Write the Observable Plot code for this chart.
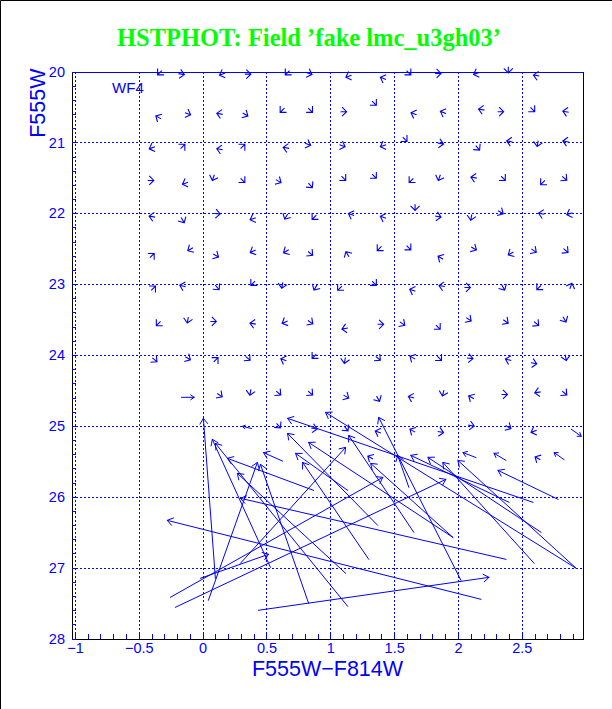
<!DOCTYPE html>
<html>
<head>
<meta charset="utf-8">
<script src="https://cdn.jsdelivr.net/npm/d3@7"></script>
<script src="https://cdn.jsdelivr.net/npm/@observablehq/plot@0.6"></script>
<style>
  body { margin: 0; background: #fff; }
  #chart svg { display: block; }
</style>
</head>
<body>
<div id="chart"></div>
<script>
// ---- texts ----
const title = "HSTPHOT: Field ’fake lmc_u3gh03’";
const xLabel = "F555W−F814W";
const yLabel = "F555W";
const panelLabel = ["WF4"];
const panelLabelX = [-0.713];
const panelLabelY = [20.30];

// ---- axes ----
const xTickValues = [-1, -0.5, 0, 0.5, 1, 1.5, 2, 2.5];
const xTickLabels = ["−1", "−0.5", "0", "0.5", "1", "1.5", "2", "2.5"];
const yTickValues = [20, 21, 22, 23, 24, 25, 26, 27, 28];
const xGrid = [-1, -0.5, 0, 0.5, 1, 1.5, 2, 2.5];
const yGrid = [21, 22, 23, 24, 25, 26, 27];
const xMinorTicks = d3.range(-10, 30).map(i => i / 10);
const yMinorTicks = d3.range(0, 41).map(i => 20 + i / 5);

// ---- small offset arrows (position, direction in degrees) ----
const smallX = [
  -0.34,-0.17,0.15,0.35,0.66,0.83,1.14,1.41,1.61,1.84,2.14,2.39,2.61,
  -0.35,-0.12,0.13,0.33,0.62,0.84,1.10,1.34,1.65,1.88,2.18,2.33,2.58,2.84,
  -0.40,-0.16,0.13,0.31,0.65,0.82,1.09,1.41,1.58,1.86,2.15,2.40,2.62,2.84,
  -0.41,-0.14,0.08,0.31,0.59,0.84,1.10,1.34,1.63,1.85,2.12,2.35,2.66,2.83,
  -0.40,-0.16,0.11,0.39,0.65,0.87,1.16,1.41,1.66,1.84,2.10,2.33,2.65,2.87,
  -0.40,-0.10,0.10,0.39,0.65,0.84,1.13,1.38,1.61,1.86,2.12,2.41,2.59,2.84,
  -0.39,-0.16,0.11,0.39,0.62,0.88,1.07,1.34,1.64,1.87,2.07,2.35,2.63,2.88,
  -0.35,-0.12,0.08,0.39,0.64,0.84,1.11,1.39,1.56,1.84,2.08,2.37,2.61,2.83,
  -0.38,-0.12,0.10,0.35,0.63,0.87,1.11,1.37,1.64,1.85,2.09,2.39,2.59,2.84,
  0.13,0.37,0.59,0.84,1.12,1.37,1.63,1.88,2.10,2.36,2.62,2.83,
  0.59,0.87,1.12,1.37,1.64,1.86,2.10,2.39,2.59,
  1.31,2.62
];
const smallY = [
  20.01,20.03,20.03,20.03,20.01,20.02,20.06,20.09,20.01,20.02,20.02,19.97,20.05,
  20.64,20.59,20.59,20.60,20.54,20.54,20.56,20.44,20.59,20.57,20.53,20.56,20.53,20.56,
  21.07,21.05,21.09,21.05,21.07,21.02,21.04,21.04,20.95,21.01,21.07,20.98,21.01,20.98,
  21.53,21.57,21.49,21.53,21.54,21.60,21.50,21.47,21.53,21.49,21.49,21.50,21.56,21.50,
  22.04,22.09,22.00,22.07,22.04,22.05,22.01,22.05,21.91,22.04,22.05,21.98,22.00,22.00,
  22.59,22.50,22.59,22.53,22.53,22.56,22.57,22.49,22.48,22.62,22.49,22.56,22.52,22.52,
  23.05,23.02,23.04,22.98,23.01,23.04,23.05,22.98,23.08,23.02,23.04,23.04,23.04,23.02,
  23.55,23.50,23.52,23.55,23.53,23.53,23.62,23.56,23.55,23.60,23.49,23.52,23.55,23.49,
  24.06,24.04,24.06,24.04,24.06,24.01,24.07,24.04,24.03,24.04,24.04,24.06,24.11,24.03,
  24.56,24.52,24.53,24.53,24.58,24.61,24.59,24.53,24.59,24.55,24.52,24.53,
  24.99,25.03,25.03,25.08,25.06,25.08,24.99,25.01,25.07,
  25.44,25.45
];
const smallAngle = [
  225,100,250,90,225,110,250,290,135,90,250,180,280,
  300,110,280,120,225,135,90,135,290,290,280,90,135,280,
  250,45,280,45,280,110,110,250,135,100,140,280,190,280,
  90,250,200,135,120,140,135,135,225,200,280,135,225,130,
  280,150,95,250,210,225,290,290,180,100,190,120,280,250,
  45,240,120,245,240,130,330,225,135,300,120,240,125,130,
  45,285,140,225,190,210,225,135,290,280,90,150,225,20,
  225,190,90,280,245,125,260,90,125,135,125,125,130,150,
  130,120,45,130,290,225,190,130,300,135,95,285,100,170,
  125,190,130,130,120,150,285,195,300,90,260,130,
  140,100,140,290,300,100,100,120,250,
  300,300
];

// ---- long offset arrows (input -> measured) ----
const arrowX1 = [0.096,0.041,0.826,0.527,1.132,1.116,0.865,-0.022,-0.257,-0.218,0.292,2.176,0.433,2.019,1.650,1.611,1.132,1.956,2.592,2.922,2.647,2.396,2.584,2.780,2.372,2.922,1.367,1.297,1.956,
  -0.17,0.379,2.883,2.137,2.372,2.827,0.622];
const arrowY1 = [27.144,27.454,27.496,26.989,27.539,27.073,25.903,27.144,27.412,27.553,26.932,27.440,27.595,27.172,26.495,25.860,25.903,26.566,26.932,27.003,26.495,26.072,26.072,26.030,26.876,27.003,26.396,26.876,26.566,
  24.59,25.03,25.04,25.44,25.48,25.47,25.49];
const arrowX2 = [0.002,0.425,0.449,0.072,0.096,0.268,0.190,0.512,1.407,1.901,1.116,-0.281,2.239,1.375,1.140,1.524,0.724,1.312,1.877,1.995,1.760,1.626,0.661,2.309,0.292,0.959,0.661,0.779,0.826,
  -0.07,0.308,2.961,2.035,2.278,2.749,0.473];
const arrowY2 = [24.887,25.508,25.536,25.183,25.240,25.663,25.451,26.805,25.719,25.748,25.296,26.326,27.130,24.873,25.127,25.409,25.381,25.522,25.508,25.480,25.437,25.409,24.887,25.621,26.015,24.803,25.099,25.508,25.226,
  24.59,25.00,25.14,25.37,25.38,25.37,25.37];

const blue = "#0000ff";
const sans = "Liberation Sans, Arial, sans-serif";

const headShape = {
  draw(context, l, r) {
    context.moveTo(0, 0);
    context.lineTo(0, -l);
    context.moveTo(-r, r - l);
    context.lineTo(0, -l);
    context.lineTo(r, r - l);
  }
};
const tickShape = {
  draw(context, l) {
    context.moveTo(0, 0);
    context.lineTo(0, -l);
  }
};

const smallIdx = d3.range(smallX.length);
const arrowIdx = d3.range(arrowX1.length);

const chart = Plot.plot({
  width: 612,
  height: 709,
  marginLeft: 71.5,
  marginRight: 29.5,
  marginTop: 71.5,
  marginBottom: 70.5,
  style: {background: "white", overflow: "visible"},
  x: {domain: [-1.027, 2.975], axis: null},
  y: {domain: [20, 28], reverse: true, axis: null},
  marks: [
    Plot.ruleX(xGrid, {stroke: blue, strokeWidth: 1, strokeDasharray: "2,2", shapeRendering: "crispEdges"}),
    Plot.ruleY(yGrid, {stroke: blue, strokeWidth: 1, strokeDasharray: "2,2", shapeRendering: "crispEdges"}),
    Plot.frame({stroke: "black", strokeWidth: 1, shapeRendering: "crispEdges"}),
    Plot.ruleY([20], {stroke: blue, strokeWidth: 1, shapeRendering: "crispEdges"}),
    Plot.vector(xMinorTicks, {x: d => d, frameAnchor: "bottom", length: 5, rotate: 0, anchor: "start",
      shape: tickShape, stroke: blue, strokeWidth: 1, strokeLinecap: "butt", shapeRendering: "crispEdges"}),
    Plot.vector(yMinorTicks, {y: d => d, frameAnchor: "left", length: 4, rotate: 90, anchor: "start",
      shape: tickShape, stroke: blue, strokeWidth: 1, strokeLinecap: "butt", shapeRendering: "crispEdges"}),
    Plot.vector(smallIdx, {x: i => smallX[i], y: i => smallY[i], rotate: i => smallAngle[i],
      length: 6, r: 4.5, shape: headShape, anchor: "middle",
      stroke: blue, strokeWidth: 1.1, strokeLinecap: "butt", strokeLinejoin: "miter"}),
    Plot.arrow(arrowIdx, {x1: i => arrowX1[i], y1: i => arrowY1[i], x2: i => arrowX2[i], y2: i => arrowY2[i],
      stroke: blue, strokeWidth: 1, headAngle: 70, headLength: 10}),
    Plot.text(yTickValues, {y: d => d, text: d => String(d), frameAnchor: "left", dx: -7,
      textAnchor: "end", lineAnchor: "middle", fill: blue, fontSize: 14.5, fontFamily: sans}),
    Plot.text(xTickValues, {x: d => d, text: (d, i) => xTickLabels[i], frameAnchor: "bottom", dy: 3.8,
      lineAnchor: "top", fill: blue, fontSize: 14.5, fontFamily: sans}),
    Plot.text([xLabel], {frameAnchor: "bottom", dy: 36.5, lineAnchor: "bottom", fill: blue,
      fontSize: 21.5, fontFamily: sans}),
    Plot.text([yLabel], {frameAnchor: "top-left", dx: -26.7, dy: -3.5, rotate: -90, textAnchor: "end",
      lineAnchor: "bottom", fill: blue, fontSize: 21.5, fontFamily: sans}),
    Plot.text(panelLabel, {x: (d, i) => panelLabelX[i], y: (d, i) => panelLabelY[i], text: d => d,
      textAnchor: "start", lineAnchor: "bottom", fill: blue, fontSize: 15, fontFamily: sans}),
    Plot.text([title], {frameAnchor: "top", dx: -18.5, dy: -26.5, lineAnchor: "bottom",
      fill: "#00ff00", fontSize: 24.5, fontWeight: "bold", fontFamily: "Liberation Serif, Times New Roman, serif"})
  ]
});

d3.select(chart).append("path")
  .attr("d", "M0.5,709V0.5H612")
  .attr("fill", "none")
  .attr("stroke", "black")
  .attr("stroke-width", 1);

document.getElementById("chart").appendChild(chart);
</script>
</body>
</html>
